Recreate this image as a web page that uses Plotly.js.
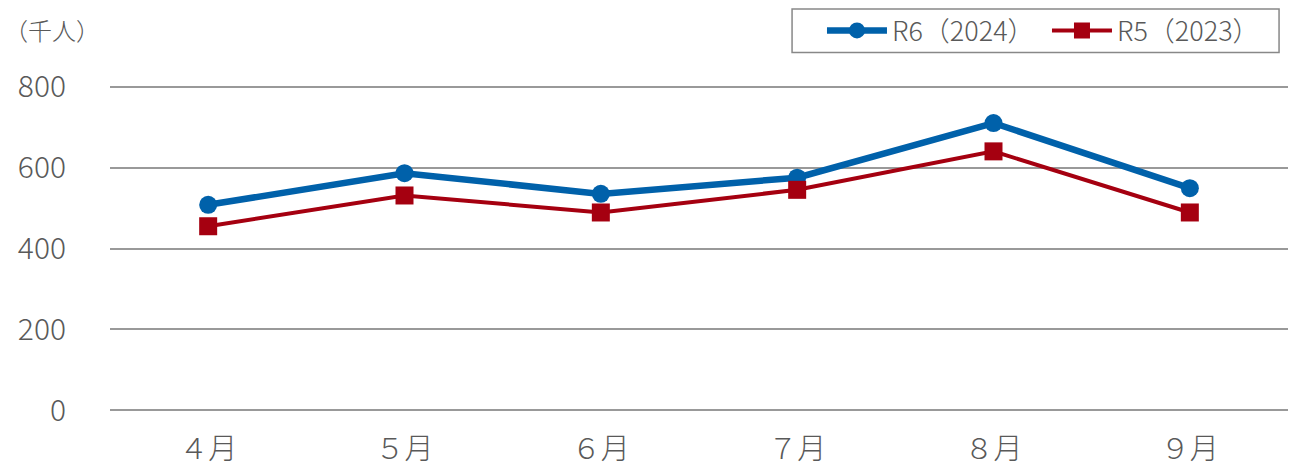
<!DOCTYPE html>
<html><head><meta charset="utf-8">
<script src="https://cdn.plot.ly/plotly-3.0.1.min.js"></script>
<style>body{margin:0;background:#fff}#c{width:1293px;height:466px}</style>
</head><body><div id="c"></div>
<script>
const months = ["４月","５月","６月","７月","８月","９月"];
const r6 = [508, 586, 535, 575, 710, 549];
const r5 = [455, 531, 489, 545, 640, 489];
const yTicks = [0, 200, 400, 600, 800];
const seriesNames = ["R6（2024）", "R5（2023）"];

const cjk = "Noto Sans CJK JP, Noto Sans, sans-serif";
const traces = [
  {x: months, y: r6, name: seriesNames[0], type: "scatter", mode: "lines+markers",
   line: {color: "#0061AA", width: 6.5}, marker: {symbol: "circle", size: 18, color: "#0061AA"}},
  {x: months, y: r5, name: seriesNames[1], type: "scatter", mode: "lines+markers",
   line: {color: "#A50010", width: 4}, marker: {symbol: "square", size: 18, color: "#A50010"}}
];
const layout = {
  width: 1293, height: 466,
  margin: {l: 110, r: 5, t: 85.4, b: 54.4, autoexpand: false},
  paper_bgcolor: "#fff", plot_bgcolor: "#fff",
  font: {family: cjk, color: "#595959", size: 22},
  xaxis: {type: "category", range: [-0.5, 5.5], showgrid: false, zeroline: false,
          showline: false, ticks: "", tickfont: {family: cjk, size: 29, color: "#595959", weight: 300}, ticklabelstandoff: 17},
  yaxis: {range: [-4, 804], tickvals: yTicks, ticktext: yTicks.map(String), showgrid: true,
          gridcolor: "#999", gridwidth: 1.5, zeroline: true, zerolinecolor: "#999", zerolinewidth: 1.5,
          showline: false, ticks: "",
          tickfont: {family: cjk, size: 30, color: "#595959", weight: 300}, ticklabelstandoff: 43},
  showlegend: true,
  legend: {orientation: "h", x: 0.6044, xanchor: "left", y: 1.1656, yanchor: "middle",
           borderwidth: 0, bgcolor: "rgba(0,0,0,0)",
           font: {family: cjk, size: 27, color: "#595959", weight: 300}, tracegroupgap: 0,
           itemwidth: 60, entrywidth: 150},
  shapes: [{type: "rect", xref: "paper", yref: "paper", x0: 0.5790, x1: 0.9924, y0: 1.0991, y1: 1.2322,
            line: {color: "#888", width: 1.5}, fillcolor: "rgba(0,0,0,0)", layer: "below"}],
  annotations: [{text: "（千人）", xref: "paper", yref: "paper", x: -0.0917, y: 1.17,
                 xanchor: "left", yanchor: "middle", showarrow: false,
                 font: {family: cjk, size: 24, color: "#595959", weight: 300}}]
};
Plotly.newPlot("c", traces, layout, {displayModeBar: false});
</script></body></html>
